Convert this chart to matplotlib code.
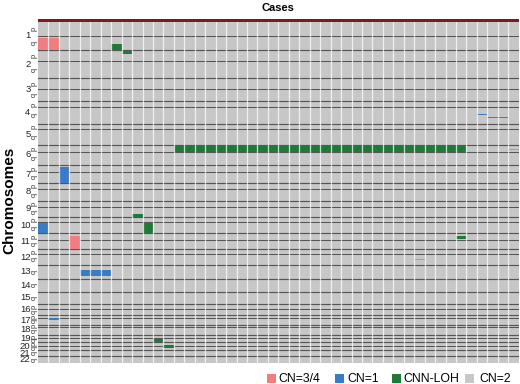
import matplotlib
matplotlib.use("Agg")
import matplotlib.pyplot as plt
from matplotlib.patches import Rectangle

plt.rcParams['font.family'] = ['Liberation Sans', 'DejaVu Sans']

# ---------------- data ----------------
chromosomes = [str(i) for i in range(1, 23)]
chrom_length = [249.25, 243.2, 198.0, 191.15, 180.9, 171.1, 159.1, 146.4, 141.2, 135.5, 135.0,
                133.9, 115.2, 107.3, 102.5, 90.35, 81.2, 78.1, 59.1, 63.0, 48.1, 51.3]
centromere = [125.0, 93.3, 91.0, 50.4, 48.4, 61.0, 59.9, 45.6, 49.0, 40.2, 53.7,
              35.8, None, None, None, 36.6, 24.0, 17.2, 26.5, 27.5, None, None]
n_cases = 46

# events: case index (0-based column), chromosome, start (Mb), end (Mb), state
chr6p_cases = [13, 14, 15, 16, 17, 18, 19, 20, 21, 22, 23, 24, 25, 26, 27, 28,
               29, 30, 31, 32, 33, 34, 35, 36, 37, 38, 39, 40]
event_case = [0, 1, 7, 8, 2, 0, 9, 10, 3, 4, 5, 6, 1, 11, 12,
              41, 35, 42, 43, 44, 45, 36, 40, 36] + chr6p_cases
event_chrom = ['1', '1', '1', '2', '7', '10', '9', '10', '11', '13', '13', '13', '17', '19', '20',
               '3', '3', '4', '4', '4', '6', '10', '11', '12'] + ['6'] * len(chr6p_cases)
event_start = [145, 145, 200, 0, 14, 45, 112, 50, 22, 42, 42, 42, 18, 33, 18,
               70, 190, 112, 133, 138, 37, 20, 24, 84] + [0] * len(chr6p_cases)
event_end = [249.25, 249.25, 249.25, 32, 159.1, 135.5, 141.2, 135.5, 135.0, 93, 93, 93, 42, 59.1, 48,
             74, 192, 115, 146, 142, 45, 24, 48, 88] + [61.0] * len(chr6p_cases)
event_state = ['CN=3/4', 'CN=3/4', 'CNN-LOH', 'CNN-LOH', 'CN=1', 'CN=1', 'CNN-LOH', 'CNN-LOH',
               'CN=3/4', 'CN=1', 'CN=1', 'CN=1', 'CN=1', 'CNN-LOH', 'CNN-LOH',
               'CN=1', 'CN=1', 'CN=1', 'CN=1', 'CN=1', 'CN=3/4', 'CN=3/4', 'CNN-LOH', 'CN=3/4'] \
              + ['CNN-LOH'] * len(chr6p_cases)

legend_labels = ['CN=3/4', 'CN=1', 'CNN-LOH', 'CN=2']
state_colors = {'CN=3/4': '#f27d80', 'CN=1': '#3a7bc6', 'CNN-LOH': '#1f7a3a', 'CN=2': '#c7c7c7'}

# ---------------- layout ----------------
GAP = 8.0  # genomic units of separator between chromosomes
offsets = []
pos = 0.0
for L in chrom_length:
    offsets.append(pos)
    pos += L + GAP
total = pos - GAP
chrom_index = {c: i for i, c in enumerate(chromosomes)}

W, H = 520, 384
fig = plt.figure(figsize=(W / 100, H / 100), dpi=100)
left, right, top, bottom = 38, 518.7, 22, 362.5
ax = fig.add_axes([left / W, 1 - bottom / H, (right - left) / W, (bottom - top) / H])
ax.set_xlim(0, n_cases)
ax.set_ylim(total, 0)
ax.set_facecolor(state_colors['CN=2'])
for s in ax.spines.values():
    s.set_visible(False)
ax.set_xticks([])
ax.set_yticks([])

line_col = '#555555'
# chromosome separators
for i in range(1, len(chromosomes)):
    ax.axhline(offsets[i] - GAP / 2, color=line_col, lw=0.85, zorder=2)
# arm separators
for i, c in enumerate(centromere):
    if c is not None:
        ax.axhline(offsets[i] + c, color=line_col, lw=0.75, zorder=2)

# events
for k, ch, st, en, state in zip(event_case, event_chrom, event_start, event_end, event_state):
    o = offsets[chrom_index[ch]]
    ax.add_patch(Rectangle((k, o + st), 1, en - st, facecolor=state_colors[state],
                           edgecolor='none', zorder=3))

# vertical case separators
for k in range(1, n_cases):
    ax.axvline(k, color='white', lw=0.9, alpha=0.75, zorder=4)

# top bar
ax.add_patch(Rectangle((0, 1.0), 1, 3.4 / (bottom - top), transform=ax.transAxes,
                       facecolor='#7a1c1e', edgecolor='none', clip_on=False, zorder=5))

# labels
for i, ch in enumerate(chromosomes):
    o = offsets[i]
    L = chrom_length[i]
    c = centromere[i]
    ax.text(-0.72, o + L / 2, ch, ha='right', va='center', fontsize=6.8, color='#222222')
    if c is not None:
        ax.text(-0.38, o + c / 2, 'p', ha='center', va='center', fontsize=5.3, rotation=90,
                color='#333333')
        ax.text(-0.38, o + c + (L - c) / 2, 'q', ha='center', va='center', fontsize=5.3,
                rotation=90, color='#333333')
    else:
        ax.text(-0.38, o + L / 2, 'q', ha='center', va='center', fontsize=5.3, rotation=90,
                color='#333333')

fig.text(277.5 / W, 1 - 8 / H, 'Cases', ha='center', va='center', fontsize=8,
         fontweight='bold')
fig.text(9.5 / W, 1 - 200 / H, 'Chromosomes', ha='center', va='center', fontsize=11,
         fontweight='bold', rotation=90)

# legend (squares and labels placed in figure pixels)
legend_square_x = [266.5, 335, 391.5, 465]
legend_text_x = [278, 347, 403, 479]
for lab, sx, tx in zip(legend_labels, legend_square_x, legend_text_x):
    fig.add_artist(Rectangle((sx / W, 1 - 383 / H), 9 / W, 9 / H, transform=fig.transFigure,
                             facecolor=state_colors[lab], edgecolor='none'))
    fig.text(tx / W, 1 - 378.5 / H, lab, ha='left', va='center', fontsize=8.8)

fig.savefig('out.png', dpi=100)
